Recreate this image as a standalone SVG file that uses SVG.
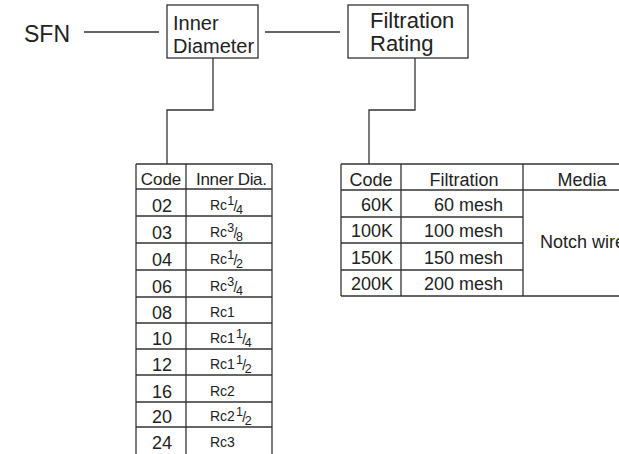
<svg xmlns="http://www.w3.org/2000/svg" width="619" height="454" viewBox="0 0 619 454">
<style>
  .ln { stroke: #333; stroke-width: 1.3; fill: none; }
  .box { stroke: #333; stroke-width: 1.3; fill: #fff; }
  text { font-family: "Liberation Sans", Arial, sans-serif; fill: #222; }
  .hd { font-size: 20px; }
  .th { font-size: 17px; }
  .cd { font-size: 18px; text-anchor: middle; }
  .rc { font-size: 14px; }
  .fr { font-size: 12.5px; }
  .sl { font-size: 14px; }
  .fv { font-size: 18px; text-anchor: end; }
</style>
<rect width="619" height="454" fill="#fff"/>

<g id="connectors">
  <line class="ln" x1="84" y1="32" x2="159" y2="32"/>
  <line class="ln" x1="265" y1="32" x2="340" y2="32"/>
  <polyline class="ln" points="213,58 213,110 167,110 167,164"/>
  <polyline class="ln" points="415,58 415,110 369,110 369,164"/>
</g>

<g id="sfn">
  <text x="24" y="42" font-size="23">SFN</text>
</g>

<g id="inner-diameter">
  <rect class="box" x="167" y="5" width="91" height="53"/>
  <text class="hd" x="173" y="30">Inner</text>
  <text class="hd" x="173" y="53">Diameter</text>
</g>

<g id="filtration-rating">
  <rect class="box" x="348" y="5" width="120" height="53"/>
  <text x="370" y="28" font-size="22">Filtration</text>
  <text x="370" y="51" font-size="22">Rating</text>
</g>

<g id="inner-table">
  <g class="ln">
    <line x1="136" y1="164" x2="272" y2="164"/>
    <line x1="136" y1="164" x2="136" y2="454"/>
    <line x1="186" y1="164" x2="186" y2="454"/>
    <line x1="272" y1="164" x2="272" y2="454"/>
    <line x1="136" y1="189" x2="272" y2="189"/>
    <line x1="136" y1="216" x2="272" y2="216"/>
    <line x1="136" y1="243" x2="272" y2="243"/>
    <line x1="136" y1="270" x2="272" y2="270"/>
    <line x1="136" y1="297" x2="272" y2="297"/>
    <line x1="136" y1="323" x2="272" y2="323"/>
    <line x1="136" y1="349" x2="272" y2="349"/>
    <line x1="136" y1="375" x2="272" y2="375"/>
    <line x1="136" y1="402" x2="272" y2="402"/>
    <line x1="136" y1="427" x2="272" y2="427"/>
  </g>
  <text class="th" x="161" y="185" text-anchor="middle">Code</text>
  <text class="th" x="196" y="185" textLength="71">Inner Dia.</text>

  <text class="cd" x="162" y="212">02</text>
  <text class="cd" x="162" y="239">03</text>
  <text class="cd" x="162" y="266">04</text>
  <text class="cd" x="162" y="293">06</text>
  <text class="cd" x="162" y="319">08</text>
  <text class="cd" x="162" y="345">10</text>
  <text class="cd" x="162" y="371">12</text>
  <text class="cd" x="162" y="398">16</text>
  <text class="cd" x="162" y="423">20</text>
  <text class="cd" x="162" y="449">24</text>

  <text class="rc" x="210" y="210">Rc<tspan class="fr" dy="-5">1</tspan><tspan class="sl" dy="6" dx="-0.5">/</tspan><tspan class="fr" dy="3" dx="-1.5">4</tspan></text>
  <text class="rc" x="210" y="237">Rc<tspan class="fr" dy="-5">3</tspan><tspan class="sl" dy="6" dx="-0.5">/</tspan><tspan class="fr" dy="3" dx="-1.5">8</tspan></text>
  <text class="rc" x="210" y="264">Rc<tspan class="fr" dy="-5">1</tspan><tspan class="sl" dy="6" dx="-0.5">/</tspan><tspan class="fr" dy="3" dx="-1.5">2</tspan></text>
  <text class="rc" x="210" y="291">Rc<tspan class="fr" dy="-5">3</tspan><tspan class="sl" dy="6" dx="-0.5">/</tspan><tspan class="fr" dy="3" dx="-1.5">4</tspan></text>
  <text class="rc" x="210" y="317">Rc1</text>
  <text class="rc" x="210" y="343">Rc1<tspan class="fr" dy="-5" dx="1">1</tspan><tspan class="sl" dy="6" dx="-0.5">/</tspan><tspan class="fr" dy="3" dx="-1.5">4</tspan></text>
  <text class="rc" x="210" y="369">Rc1<tspan class="fr" dy="-5" dx="1">1</tspan><tspan class="sl" dy="6" dx="-0.5">/</tspan><tspan class="fr" dy="3" dx="-1.5">2</tspan></text>
  <text class="rc" x="210" y="396">Rc2</text>
  <text class="rc" x="210" y="421">Rc2<tspan class="fr" dy="-5" dx="1">1</tspan><tspan class="sl" dy="6" dx="-0.5">/</tspan><tspan class="fr" dy="3" dx="-1.5">2</tspan></text>
  <text class="rc" x="210" y="447">Rc3</text>
</g>

<g id="filtration-table">
  <g class="ln">
    <line x1="341" y1="164" x2="619" y2="164"/>
    <line x1="341" y1="190" x2="619" y2="190"/>
    <line x1="341" y1="217" x2="523" y2="217"/>
    <line x1="341" y1="243" x2="523" y2="243"/>
    <line x1="341" y1="270" x2="523" y2="270"/>
    <line x1="341" y1="296" x2="619" y2="296"/>
    <line x1="341" y1="164" x2="341" y2="296"/>
    <line x1="401" y1="164" x2="401" y2="296"/>
    <line x1="523" y1="164" x2="523" y2="296"/>
  </g>
  <text x="371" y="186" font-size="18" text-anchor="middle">Code</text>
  <text x="464" y="186" font-size="18" text-anchor="middle">Filtration</text>
  <text x="582" y="186" font-size="18" text-anchor="middle">Media</text>

  <text class="fv" x="393" y="211">60K</text>
  <text class="fv" x="393" y="237">100K</text>
  <text class="fv" x="393" y="264">150K</text>
  <text class="fv" x="393" y="290">200K</text>

  <text class="fv" x="503" y="211">60 mesh</text>
  <text class="fv" x="503" y="237">100 mesh</text>
  <text class="fv" x="503" y="264">150 mesh</text>
  <text class="fv" x="503" y="290">200 mesh</text>

  <text x="540" y="248" font-size="18">Notch wire</text>
</g>
</svg>
